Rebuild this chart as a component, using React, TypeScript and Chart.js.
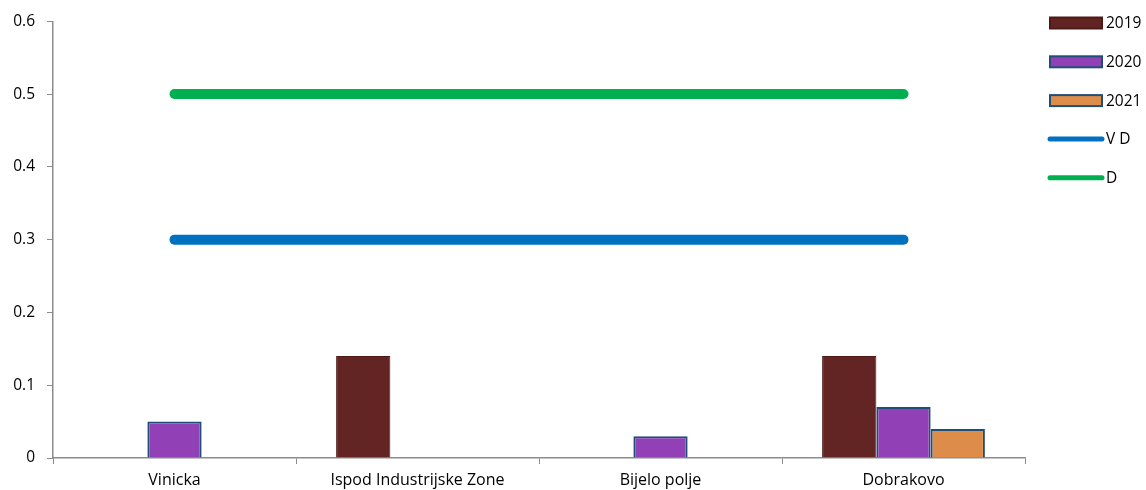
import React, { useEffect, useRef } from "react";
import { Chart, registerables } from "chart.js";

Chart.register(...registerables);

const categories = ["Vinicka", "Ispod Industrijske Zone", "Bijelo polje", "Dobrakovo"];
const values2019: (number | null)[] = [null, 0.14, null, 0.14];
const values2020: (number | null)[] = [0.05, null, 0.03, 0.07];
const values2021: (number | null)[] = [null, null, null, 0.04];
const valuesVD = [0.3, 0.3, 0.3, 0.3];
const valuesD = [0.5, 0.5, 0.5, 0.5];
const yTicks = [0, 0.1, 0.2, 0.3, 0.4, 0.5, 0.6];

const FONT = "'Open Sans', sans-serif";

type LegendItem = { label: string; kind: "bar" | "line"; fill: string; stroke?: string };
const legendItems: LegendItem[] = [
  { label: "2019", kind: "bar", fill: "#622422", stroke: "#4e1a18" },
  { label: "2020", kind: "bar", fill: "#9240b6", stroke: "#1f4e79" },
  { label: "2021", kind: "bar", fill: "#de8c4a", stroke: "#1f4e79" },
  { label: "V D", kind: "line", fill: "#0070c0" },
  { label: "D", kind: "line", fill: "#00b050" },
];

const legendPlugin = {
  id: "customLegend",
  afterDraw(chart: any) {
    const ctx = chart.ctx;
    ctx.save();
    ctx.font = `15.5px ${FONT}`;
    ctx.textBaseline = "middle";
    legendItems.forEach((it, i) => {
      const y = 22.5 + i * 38.8;
      if (it.kind === "bar") {
        ctx.fillStyle = it.fill;
        ctx.fillRect(1050, y - 5, 52, 11);
        if (it.stroke) {
          ctx.strokeStyle = it.stroke;
          ctx.lineWidth = 2;
          ctx.strokeRect(1050, y - 5, 52, 11);
        }
      } else {
        ctx.strokeStyle = it.fill;
        ctx.lineWidth = 5;
        ctx.lineCap = "round";
        ctx.beginPath();
        ctx.moveTo(1050, y);
        ctx.lineTo(1102, y);
        ctx.stroke();
      }
      ctx.fillStyle = "#000";
      ctx.fillText(it.label, 1106, y + 1);
    });
    ctx.restore();
  },
};

export default function App() {
  const ref = useRef<HTMLCanvasElement>(null);
  useEffect(() => {
    document.body.style.margin = "0";
    const chart = new Chart(ref.current!, {
      type: "bar",
      data: {
        labels: categories,
        datasets: [
          {
            type: "line",
            label: "V D",
            data: valuesVD,
            borderColor: "#0070c0",
            backgroundColor: "#0070c0",
            borderWidth: 10,
            borderCapStyle: "round",
            pointRadius: 0,
            order: 0,
          } as any,
          {
            type: "line",
            label: "D",
            data: valuesD,
            borderColor: "#00b050",
            backgroundColor: "#00b050",
            borderWidth: 10,
            borderCapStyle: "round",
            pointRadius: 0,
            order: 0,
          } as any,
          {
            label: "2019",
            data: values2019,
            backgroundColor: "#632523",
            borderColor: "#4e1a18",
            borderWidth: 1,
            order: 1,
          },
          {
            label: "2020",
            data: values2020,
            backgroundColor: "#9240b6",
            borderColor: "#1f4e79",
            borderWidth: 2,
            order: 1,
          },
          {
            label: "2021",
            data: values2021,
            backgroundColor: "#de8c4a",
            borderColor: "#1f4e79",
            borderWidth: 2,
            order: 1,
          },
        ],
      },
      options: {
        animation: false,
        responsive: false,
        maintainAspectRatio: false,
        layout: { padding: { top: 20, right: 121, left: 0, bottom: 0 } },
        plugins: { legend: { display: false }, tooltip: { enabled: false } },
        datasets: { bar: { categoryPercentage: 0.67, barPercentage: 1 } },
        scales: {
          x: {
            offset: true,
            grid: { display: true, drawOnChartArea: false, offset: true, tickLength: 6, color: "#8c8c8c" },
            border: { color: "#8c8c8c", width: 1.5 },
            ticks: { color: "#000", font: { family: FONT, size: 16 }, padding: 7, maxRotation: 0 },
            afterFit: (s: any) => {
              s.height = 32;
            },
          },
          y: {
            min: 0,
            max: 0.6,
            afterBuildTicks: (s: any) => {
              s.ticks = yTicks.map((v) => ({ value: v }));
            },
            grid: { display: true, drawOnChartArea: false, tickLength: 6, color: "#8c8c8c" },
            border: { color: "#8c8c8c", width: 1.5 },
            ticks: {
              color: "#000",
              font: { family: FONT, size: 15.5 },
              padding: 12,
              callback: (v: any) => String(Math.round(Number(v) * 10) / 10),
            },
            afterFit: (s: any) => {
              s.width = 53;
            },
          },
        },
      },
      plugins: [legendPlugin],
    } as any);
    return () => chart.destroy();
  }, []);
  return (
    <div style={{ width: 1146, height: 490 }}>
      <canvas ref={ref} width={1146} height={490} style={{ width: 1146, height: 490, display: "block" }} />
    </div>
  );
}
